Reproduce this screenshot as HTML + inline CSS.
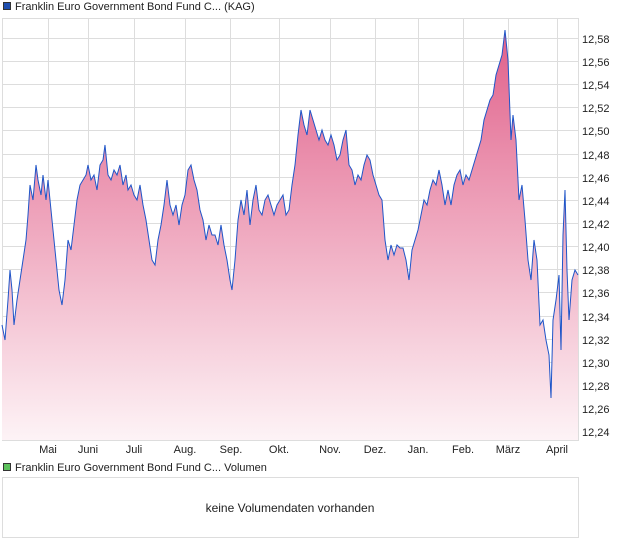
<!DOCTYPE html>
<html><head><meta charset="utf-8"><style>
body{margin:0;background:#fff;font-family:"Liberation Sans",Arial,sans-serif;}
svg text{font-family:"Liberation Sans",Arial,sans-serif;font-size:11px;fill:#222}
</style></head><body>
<svg width="620" height="546" xmlns="http://www.w3.org/2000/svg">
<defs><linearGradient id="g" x1="0" y1="0" x2="0" y2="1">
<stop offset="0" stop-color="#e0608a"/><stop offset="0.45" stop-color="#eea3bb"/><stop offset="1" stop-color="#fdf3f6"/></linearGradient></defs>
<rect x="3.5" y="2.5" width="7" height="7" fill="#1f4fb0" stroke="#333" stroke-width="1"/>
<text x="15" y="10">Franklin Euro Government Bond Fund C... (KAG)</text>
<rect x="2.5" y="18.5" width="576" height="422" fill="none" stroke="#ddd"/>
<g stroke="#ddd" stroke-width="1">
<line x1="2" y1="38.5" x2="578" y2="38.5"/><line x1="2" y1="61.5" x2="578" y2="61.5"/><line x1="2" y1="84.5" x2="578" y2="84.5"/><line x1="2" y1="107.5" x2="578" y2="107.5"/><line x1="2" y1="130.5" x2="578" y2="130.5"/><line x1="2" y1="154.5" x2="578" y2="154.5"/><line x1="2" y1="177.5" x2="578" y2="177.5"/><line x1="2" y1="200.5" x2="578" y2="200.5"/><line x1="2" y1="223.5" x2="578" y2="223.5"/><line x1="2" y1="246.5" x2="578" y2="246.5"/><line x1="2" y1="269.5" x2="578" y2="269.5"/><line x1="2" y1="292.5" x2="578" y2="292.5"/><line x1="2" y1="316.5" x2="578" y2="316.5"/><line x1="2" y1="339.5" x2="578" y2="339.5"/><line x1="2" y1="362.5" x2="578" y2="362.5"/><line x1="2" y1="385.5" x2="578" y2="385.5"/><line x1="2" y1="408.5" x2="578" y2="408.5"/><line x1="2" y1="431.5" x2="578" y2="431.5"/>
<line x1="48.5" y1="18" x2="48.5" y2="440"/><line x1="88.5" y1="18" x2="88.5" y2="440"/><line x1="134.5" y1="18" x2="134.5" y2="440"/><line x1="185.5" y1="18" x2="185.5" y2="440"/><line x1="230.5" y1="18" x2="230.5" y2="440"/><line x1="279.5" y1="18" x2="279.5" y2="440"/><line x1="330.5" y1="18" x2="330.5" y2="440"/><line x1="375.5" y1="18" x2="375.5" y2="440"/><line x1="418.5" y1="18" x2="418.5" y2="440"/><line x1="463.5" y1="18" x2="463.5" y2="440"/><line x1="508.5" y1="18" x2="508.5" y2="440"/><line x1="557.5" y1="18" x2="557.5" y2="440"/>
</g>
<polygon fill="url(#g)" points="2,440 2,325 5,340 8,300 10,270 12,290 14,325 17,300 20,280 23,260 26,240 28,215 30,185 33,200 36,165 38,180 41,195 43,175 46,200 48,180 50,200 53,230 56,260 59,290 62,305 65,280 68,240 71,250 74,225 77,200 80,185 83,180 86,175 88,165 91,180 94,175 97,190 100,165 103,160 105,145 108,175 111,180 114,170 117,175 120,165 123,185 126,175 128,190 131,185 134,195 137,200 140,185 143,205 146,220 149,240 152,260 155,265 158,240 161,225 164,205 167,180 170,205 173,215 176,205 179,225 182,205 185,195 188,170 191,165 194,180 197,190 200,210 203,220 206,240 209,225 212,235 215,235 218,245 221,225 224,245 227,260 230,280 232,290 235,260 238,220 241,200 244,215 247,190 250,225 253,200 256,185 259,210 262,215 265,200 268,195 271,205 274,215 277,205 280,200 283,195 286,215 289,210 292,185 295,165 298,135 301,110 304,125 307,135 310,110 313,120 316,130 319,140 322,130 325,140 328,145 331,135 334,145 337,160 340,155 343,140 346,130 349,165 352,170 355,185 358,175 361,180 364,165 367,155 370,160 373,175 376,185 379,195 382,200 385,240 388,260 391,245 394,255 397,245 400,248 403,248 406,260 409,280 412,250 415,240 418,230 421,215 424,200 427,205 430,190 433,180 436,185 439,170 442,185 445,205 448,190 451,205 454,185 457,175 460,170 463,185 466,175 469,180 472,170 475,160 478,150 481,140 484,120 487,110 490,100 493,95 496,75 499,65 502,55 505,30 508,60 511,140 513,115 516,140 519,200 522,185 525,220 528,260 531,280 534,240 537,260 540,325 543,320 546,340 549,355 551,398 553,320 556,300 559,275 561,350 563,235 565,190 567,270 569,320 572,280 575,270 578,275 578,440"/>
<polyline fill="none" stroke="#1f55c8" stroke-width="1" points="2,325 5,340 8,300 10,270 12,290 14,325 17,300 20,280 23,260 26,240 28,215 30,185 33,200 36,165 38,180 41,195 43,175 46,200 48,180 50,200 53,230 56,260 59,290 62,305 65,280 68,240 71,250 74,225 77,200 80,185 83,180 86,175 88,165 91,180 94,175 97,190 100,165 103,160 105,145 108,175 111,180 114,170 117,175 120,165 123,185 126,175 128,190 131,185 134,195 137,200 140,185 143,205 146,220 149,240 152,260 155,265 158,240 161,225 164,205 167,180 170,205 173,215 176,205 179,225 182,205 185,195 188,170 191,165 194,180 197,190 200,210 203,220 206,240 209,225 212,235 215,235 218,245 221,225 224,245 227,260 230,280 232,290 235,260 238,220 241,200 244,215 247,190 250,225 253,200 256,185 259,210 262,215 265,200 268,195 271,205 274,215 277,205 280,200 283,195 286,215 289,210 292,185 295,165 298,135 301,110 304,125 307,135 310,110 313,120 316,130 319,140 322,130 325,140 328,145 331,135 334,145 337,160 340,155 343,140 346,130 349,165 352,170 355,185 358,175 361,180 364,165 367,155 370,160 373,175 376,185 379,195 382,200 385,240 388,260 391,245 394,255 397,245 400,248 403,248 406,260 409,280 412,250 415,240 418,230 421,215 424,200 427,205 430,190 433,180 436,185 439,170 442,185 445,205 448,190 451,205 454,185 457,175 460,170 463,185 466,175 469,180 472,170 475,160 478,150 481,140 484,120 487,110 490,100 493,95 496,75 499,65 502,55 505,30 508,60 511,140 513,115 516,140 519,200 522,185 525,220 528,260 531,280 534,240 537,260 540,325 543,320 546,340 549,355 551,398 553,320 556,300 559,275 561,350 563,235 565,190 567,270 569,320 572,280 575,270 578,275"/>
<g>
<text x="582" y="43">12,58</text><text x="582" y="66">12,56</text><text x="582" y="89">12,54</text><text x="582" y="112">12,52</text><text x="582" y="135">12,50</text><text x="582" y="159">12,48</text><text x="582" y="182">12,46</text><text x="582" y="205">12,44</text><text x="582" y="228">12,42</text><text x="582" y="251">12,40</text><text x="582" y="274">12,38</text><text x="582" y="297">12,36</text><text x="582" y="321">12,34</text><text x="582" y="344">12,32</text><text x="582" y="367">12,30</text><text x="582" y="390">12,28</text><text x="582" y="413">12,26</text><text x="582" y="436">12,24</text>
</g>
<g text-anchor="middle">
<text x="48" y="453">Mai</text><text x="88" y="453">Juni</text><text x="134" y="453">Juli</text><text x="185" y="453">Aug.</text><text x="231" y="453">Sep.</text><text x="279" y="453">Okt.</text><text x="330" y="453">Nov.</text><text x="375" y="453">Dez.</text><text x="418" y="453">Jan.</text><text x="463" y="453">Feb.</text><text x="508" y="453">März</text><text x="557" y="453">April</text>
</g>
<rect x="3.5" y="463.5" width="7" height="7" fill="#5cc15c" stroke="#333" stroke-width="1"/>
<text x="15" y="471">Franklin Euro Government Bond Fund C... Volumen</text>
<rect x="2.5" y="477.5" width="576" height="60" fill="none" stroke="#ddd"/>
<text x="290" y="512" text-anchor="middle" style="font-size:12px">keine Volumendaten vorhanden</text>
</svg>
</body></html>
